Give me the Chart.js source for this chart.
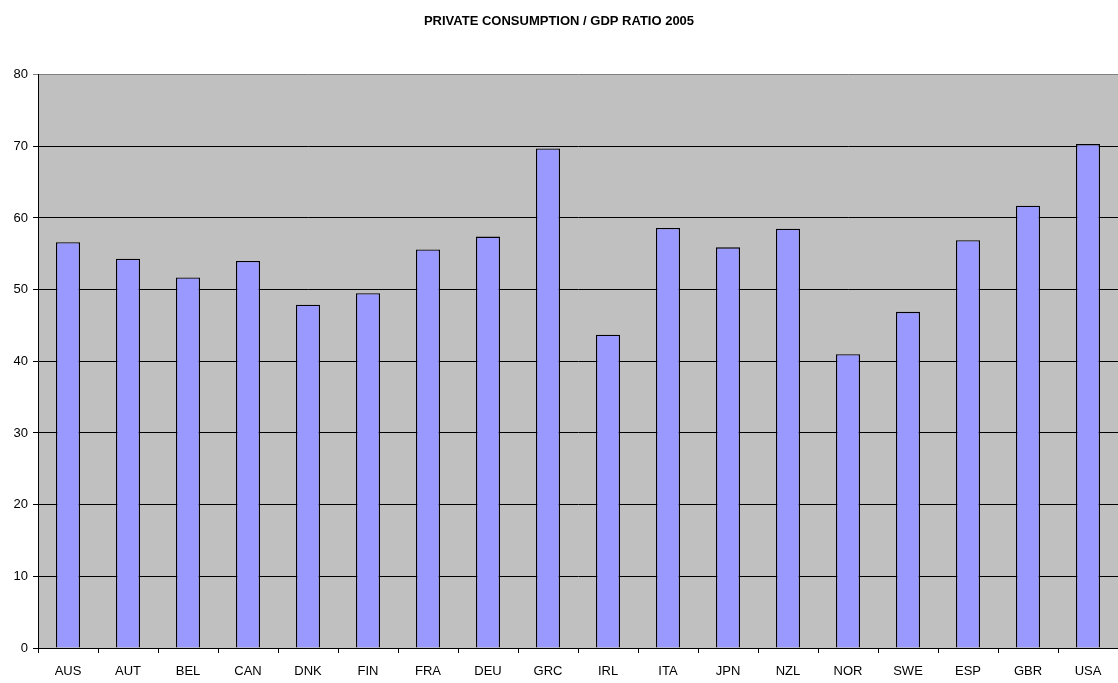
<!DOCTYPE html>
<html>
<head>
<meta charset="utf-8">
<script src="https://cdn.jsdelivr.net/npm/chart.js@4/dist/chart.umd.min.js"></script>
<style>
html,body{margin:0;padding:0;background:#fff;}
#wrap{width:1118px;height:683px;position:relative;}
</style>
</head>
<body>
<div id="wrap"><canvas id="c" width="1118" height="683"></canvas></div>
<script>
const chartTitle = "PRIVATE CONSUMPTION / GDP RATIO 2005";
const categories = ["AUS","AUT","BEL","CAN","DNK","FIN","FRA","DEU","GRC","IRL","ITA","JPN","NZL","NOR","SWE","ESP","GBR","USA"];
const ratio2005 = [56.6,54.3,51.7,54.0,47.9,49.5,55.6,57.4,69.7,43.7,58.6,55.9,58.5,41.0,46.9,56.9,61.7,70.3];
const yTicks = [0,10,20,30,40,50,60,70,80];

const plotBg = {
  id:'plotBg',
  beforeDraw(chart){
    const {ctx, chartArea:a} = chart;
    ctx.save();
    ctx.fillStyle = '#C0C0C0';
    ctx.fillRect(a.left, a.top, a.right - a.left, a.bottom - a.top);
    ctx.restore();
  }
};

new Chart(document.getElementById('c'), {
  type:'bar',
  data:{
    labels:categories,
    datasets:[{
      data:ratio2005,
      backgroundColor:'#9999FF',
      borderColor:'#000000',
      borderWidth:1.3,
      barPercentage:0.4,
      categoryPercentage:1.0
    }]
  },
  options:{
    responsive:false,
    animation:false,
    devicePixelRatio:1,
    layout:{padding:{left:0,right:0,top:0,bottom:0}},
    plugins:{
      legend:{display:false},
      tooltip:{enabled:false},
      title:{
        display:true,
        text:chartTitle,
        color:'#000',
        font:{family:'Liberation Sans, Arial, sans-serif',size:13,weight:'bold'},
        padding:{top:14,bottom:45}
      }
    },
    scales:{
      x:{
        offset:true,
        grid:{display:true,drawOnChartArea:false,drawTicks:true,tickLength:5,color:'#000',offset:true},
        border:{display:true,color:'#000',width:1},
        ticks:{color:'#000',font:{family:'Liberation Sans, Arial, sans-serif',size:13},padding:11,maxRotation:0,autoSkip:false},
        afterFit(s){ s.height = 35; }
      },
      y:{
        min:0,max:80,
        afterBuildTicks(s){ s.ticks = yTicks.map(v=>({value:v})); },
        grid:{
          color:(c)=> c.tick && c.tick.value===80 ? '#808080' : '#000',
          lineWidth:1,tickLength:5,drawTicks:true
        },
        border:{display:true,color:'#000',width:1},
        ticks:{color:'#000',font:{family:'Liberation Sans, Arial, sans-serif',size:13},padding:5},
        afterFit(s){ s.width = 38; }
      }
    }
  },
  plugins:[plotBg]
});
</script>
</body>
</html>
